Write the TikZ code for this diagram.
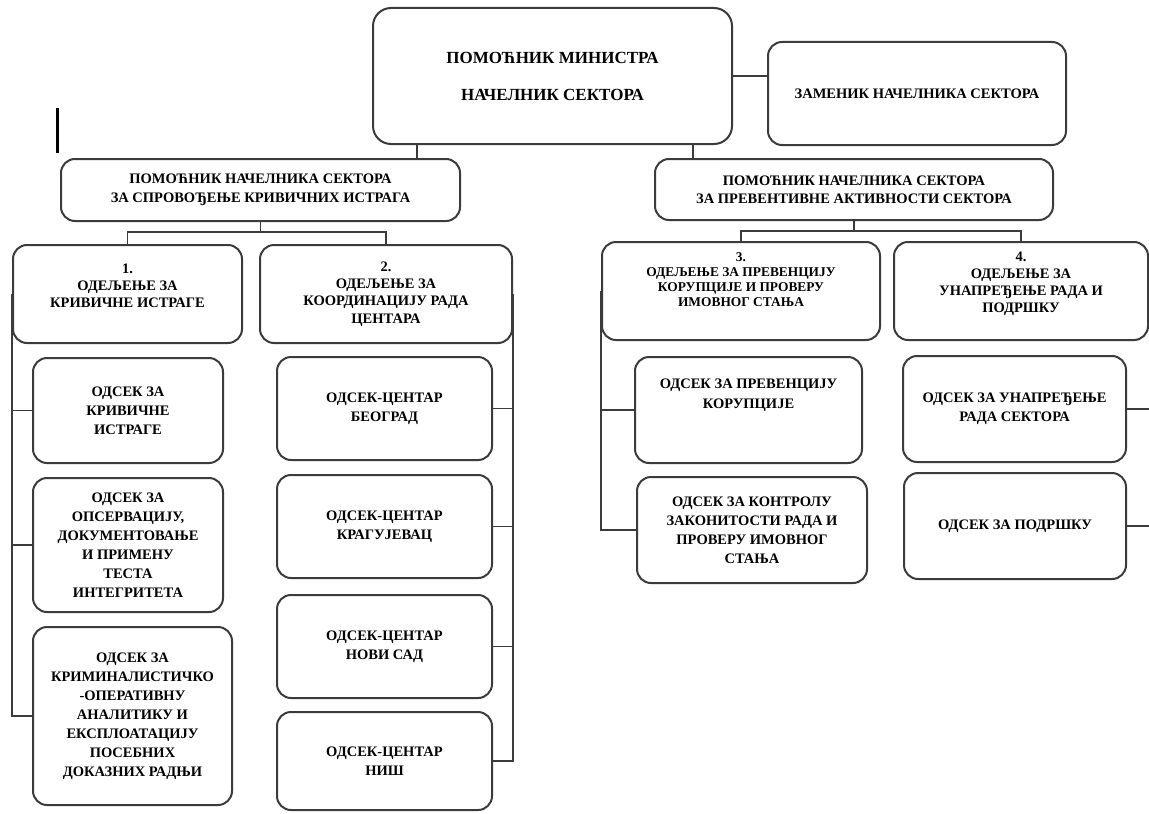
\documentclass[tikz,border=0pt]{standalone}
\usepackage{fontspec}
\setmainfont{Liberation Serif}
\newlength{\du}
\setlength{\du}{0.5pt}
\definecolor{dialinecolor}{rgb}{0.230000, 0.230000, 0.230000}
\tikzset{
  orgbox/.style={draw=dialinecolor, line width=1pt, rounded corners=7pt, align=center, inner sep=0pt,
    font=\bfseries\fontsize{7.25}{9.5}\selectfont},
  orgline/.style={draw=dialinecolor, line width=0.75pt},
}

\begin{document}
\begin{tikzpicture}
\pgftransformxscale{1.000000}
\pgftransformyscale{-1.000000}
\useasboundingbox (0\du,0\du) rectangle (1149\du,813\du);
% top of the sector
\node[orgbox, rounded corners=9pt, minimum width=359\du, minimum height=136\du, font=\bfseries\fontsize{8.5}{18.5}\selectfont] (min) at (552.5\du,76\du){ПОМОЋНИК МИНИСТРА\\НАЧЕЛНИК СЕКТОРА};
\node[orgbox, minimum width=298\du, minimum height=103\du] (zam) at (917\du,93.5\du){ЗАМЕНИК НАЧЕЛНИКА СЕКТОРА};
\node[orgbox, minimum width=399\du, minimum height=62\du] (pomL) at (260.5\du,190\du){ПОМОЋНИК НАЧЕЛНИКА СЕКТОРА\\ЗА СПРОВОЂЕЊЕ КРИВИЧНИХ ИСТРАГА};
\node[orgbox, minimum width=398\du, minimum height=61\du, font=\bfseries\fontsize{7.25}{9}\selectfont] (pomR) at (854\du,189.5\du){ПОМОЋНИК НАЧЕЛНИКА СЕКТОРА\\ЗА ПРЕВЕНТИВНЕ АКТИВНОСТИ СЕКТОРА};
% departments
\node[orgbox, minimum width=229\du, minimum height=98\du, font=\bfseries\fontsize{7.25}{8.5}\selectfont, text depth=8.5pt] (od1) at (127.5\du,294\du){1.\\ОДЕЉЕЊЕ ЗА\\КРИВИЧНЕ ИСТРАГЕ};
\node[orgbox, minimum width=252\du, minimum height=98\du, font=\bfseries\fontsize{7.25}{8.7}\selectfont] (od2) at (386\du,294\du){2.\\ОДЕЉЕЊЕ ЗА\\КООРДИНАЦИЈУ РАДА\\ЦЕНТАРА};
\node[orgbox, minimum width=278\du, minimum height=98\du, font=\bfseries\fontsize{6.7}{7.5}\selectfont, text depth=11.5pt] (od3) at (741\du,291\du){3.\\ОДЕЉЕЊЕ ЗА ПРЕВЕНЦИЈУ\\КОРУПЦИЈЕ И ПРОВЕРУ\\ИМОВНОГ СТАЊА};
\node[orgbox, minimum width=254\du, minimum height=98\du, font=\bfseries\fontsize{7.25}{8.5}\selectfont, text depth=8.5pt] (od4) at (1021\du,291\du){4.\\ОДЕЉЕЊЕ ЗА\\УНАПРЕЂЕЊЕ РАДА И\\ПОДРШКУ};
% sections
\node[orgbox, minimum width=190\du, minimum height=105\du] (os11) at (128\du,410.5\du){ОДСЕК ЗА\\КРИВИЧНЕ\\ИСТРАГЕ};
\node[orgbox, minimum width=190\du, minimum height=134\du] (os12) at (128\du,545\du){ОДСЕК ЗА\\ОПСЕРВАЦИЈУ,\\ДОКУМЕНТОВАЊЕ\\И ПРИМЕНУ\\ТЕСТА\\ИНТЕГРИТЕТА};
\node[orgbox, minimum width=199\du, minimum height=178\du] (os13) at (132.5\du,716\du){ОДСЕК ЗА\\КРИМИНАЛИСТИЧКО\\-ОПЕРАТИВНУ\\АНАЛИТИКУ И\\ЕКСПЛОАТАЦИЈУ\\ПОСЕБНИХ\\ДОКАЗНИХ РАДЊИ};
\node[orgbox, minimum width=215\du, minimum height=103\du] (os21) at (384.5\du,408.5\du){ОДСЕК-ЦЕНТАР\\БЕОГРАД};
\node[orgbox, minimum width=215\du, minimum height=103\du] (os22) at (384.5\du,526.5\du){ОДСЕК-ЦЕНТАР\\КРАГУЈЕВАЦ};
\node[orgbox, minimum width=215\du, minimum height=103\du] (os23) at (384.5\du,646.5\du){ОДСЕК-ЦЕНТАР\\НОВИ САД};
\node[orgbox, minimum width=215\du, minimum height=98\du] (os24) at (384.5\du,761\du){ОДСЕК-ЦЕНТАР\\НИШ};
\node[orgbox, minimum width=227\du, minimum height=106\du, font=\bfseries\fontsize{7.25}{10}\selectfont, text depth=16.5pt] (os31) at (748.5\du,410\du){ОДСЕК ЗА ПРЕВЕНЦИЈУ\\КОРУПЦИЈЕ};
\node[orgbox, minimum width=230\du, minimum height=106\du] (os32) at (752\du,530\du){ОДСЕК ЗА КОНТРОЛУ\\ЗАКОНИТОСТИ РАДА И\\ПРОВЕРУ ИМОВНОГ\\СТАЊА};
\node[orgbox, minimum width=223\du, minimum height=106\du] (os41) at (1014.5\du,409\du){ОДСЕК ЗА УНАПРЕЂЕЊЕ\\РАДА СЕКТОРА};
\node[orgbox, minimum width=222\du, minimum height=106\du] (os42) at (1015\du,526\du){ОДСЕК ЗА ПОДРШКУ};
% connectors
\coordinate (xL) at (417\du,0\du);
\coordinate (xR) at (693\du,0\du);
\coordinate (rim) at (1149\du,0\du);
\draw[orgline] (min.east) -- (min.east -| zam.west);
\draw[orgline] (min.south -| xL) -- (pomL.north -| xL);
\draw[orgline] (min.south -| xR) -- (pomR.north -| xR);
\draw[orgline] (pomL.south) -- ++(0\du,10\du) coordinate (bL);
\draw[orgline] (od1.north) |- (bL) -| (od2.north);
\draw[orgline] (pomR.south) -- ++(0\du,10\du) coordinate (bR);
\draw[orgline] (od3.north) |- (bR) -| (od4.north);
\draw[orgline] (od1.west) -- (od1.west |- os13.west) -- (os13.west);
\draw[orgline] (od1.west |- os11.west) -- (os11.west);
\draw[orgline] (od1.west |- os12.west) -- (os12.west);
\draw[orgline] (od2.east) -- (od2.east |- os24.east) -- (os24.east);
\draw[orgline] (od2.east |- os21.east) -- (os21.east);
\draw[orgline] (od2.east |- os22.east) -- (os22.east);
\draw[orgline] (od2.east |- os23.east) -- (os23.east);
\draw[orgline] (od3.west) -- (od3.west |- os32.west) -- (os32.west);
\draw[orgline] (od3.west |- os31.west) -- (os31.west);
\draw[orgline] (os41.east) -- (os41.east -| rim);
\draw[orgline] (os42.east) -- (os42.east -| rim);
% stray mark
\draw[line width=1.5pt] (57\du,108\du) -- (57\du,153\du);
\end{tikzpicture}
\end{document}
